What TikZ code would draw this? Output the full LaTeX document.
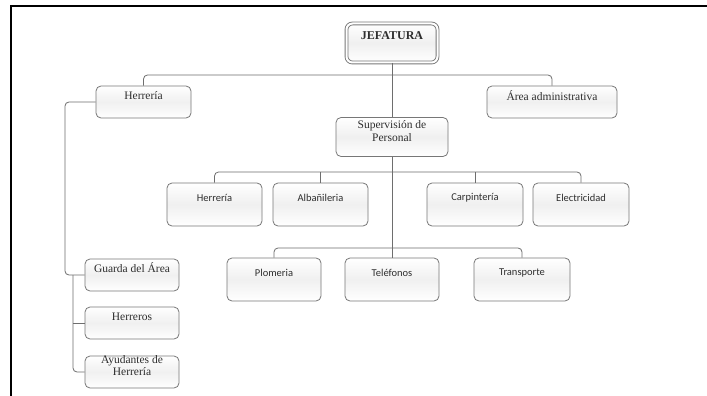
\documentclass[tikz,border=0pt]{standalone}
\usepackage{fontspec}
\setmainfont{Liberation Serif}
\newfontfamily\calib{Carlito}
\definecolor{boxline}{HTML}{777777}
\definecolor{wire}{HTML}{6E6E6E}
\definecolor{txt}{HTML}{2E2E2E}
\tikzset{
  box/.style={draw=boxline, line width=0.8pt, rounded corners=5pt, top color=white, bottom color=white, middle color=gray!12, inner sep=0pt},
  wire/.style={draw=wire, line width=0.8pt, rounded corners=4pt},
  ser/.style={text=txt, font=\fontsize{11.5}{12.5}\selectfont, align=center, inner sep=0pt},
  sans/.style={text=txt, font=\calib\fontsize{10.5}{12}\selectfont, align=center, inner sep=0pt},
}
\begin{document}
\begin{tikzpicture}[x=1pt,y=-1pt]
\useasboundingbox (0,0) rectangle (707,396);
\fill[white] (0,0) rectangle (707,396);
% frame
\draw[black, line width=1.8pt] (11,396) -- (11,6) -- (707,6);

% boxes
\node[box, line width=0.9pt, double=white, double distance=2pt, rounded corners=6pt, minimum width=91pt, minimum height=39pt] (jef) at (392,43) {};
\node[ser, font=\bfseries\fontsize{12}{13}\selectfont] at ([yshift=-13pt]jef.north) {JEFATURA};

\node[box, minimum width=95pt, minimum height=32pt] (herrA) at (143.5,102) {};
\node[ser] at ([yshift=-10pt]herrA.north) {Herrería};
\node[box, minimum width=130pt, minimum height=32pt] (area) at (552,102) {};
\node[ser] at ([yshift=-10pt]area.north) {Área administrativa};
\node[box, minimum width=112pt, minimum height=39pt] (sup) at (392,137) {};
\node[ser] at ([yshift=-14pt]sup.north) {Supervisión de\\Personal};

\node[box, minimum width=95pt, minimum height=43pt] (herrB) at (214.5,204.5) {};
\node[sans] at ([yshift=-15pt]herrB.north) {Herrería};
\node[box, minimum width=95pt, minimum height=43pt] (alba) at (320.5,204.5) {};
\node[sans] at ([yshift=-15pt]alba.north) {Albañileria};
\node[box, minimum width=96pt, minimum height=43pt] (carp) at (475,204.5) {};
\node[sans] at ([yshift=-15pt]carp.north) {Carpintería};
\node[box, minimum width=96pt, minimum height=43pt] (elec) at (581,204.5) {};
\node[sans] at ([yshift=-15pt]elec.north) {Electricidad};

\node[box, minimum width=94pt, minimum height=43pt] (plom) at (274,279.5) {};
\node[sans] at ([yshift=-15pt]plom.north) {Plomeria};
\node[box, minimum width=94pt, minimum height=43pt] (tel) at (392,279.5) {};
\node[sans] at ([yshift=-15pt]tel.north) {Teléfonos};
\node[box, minimum width=96pt, minimum height=43pt] (trans) at (522,279.5) {};
\node[sans] at ([yshift=-15pt]trans.north) {Transporte};

\node[box, minimum width=94pt, minimum height=32pt] (guard) at (132,275) {};
\node[ser] at ([yshift=-9pt]guard.north) {Guarda del Área};
\node[box, minimum width=94pt, minimum height=32pt] (herros) at (132,323) {};
\node[ser] at ([yshift=-10pt]herros.north) {Herreros};
\node[box, minimum width=94pt, minimum height=32pt] (ayud) at (132,372) {};
\node[ser] at ([yshift=-10pt]ayud.north) {Ayudantes de\\Herrería};

% connectors
\coordinate (b1) at (392,75);
\coordinate (b2) at (392,172);
\coordinate (b3) at (392,248);
\draw[wire] (jef.south) -- (sup.north);
\draw[wire] (herrA.north) |- (b1) -| (area.north);
\draw[wire] (sup.south) -- (tel.north);
\draw[wire] (herrB.north) |- (b2) -| (elec.north);
\draw[wire] (alba.north) -- (alba.north |- b2);
\draw[wire] (carp.north) -- (carp.north |- b2);
\draw[wire] (plom.north) |- (b3) -| (trans.north);

\coordinate (lo) at (65,102);
\coordinate (li) at (73,275);
\draw[wire] (herrA.west) -- (lo) |- (guard.west);
\draw[wire] (li) |- (ayud.west);
\draw[wire] (li |- herros.west) -- (herros.west);
\end{tikzpicture}
\end{document}
